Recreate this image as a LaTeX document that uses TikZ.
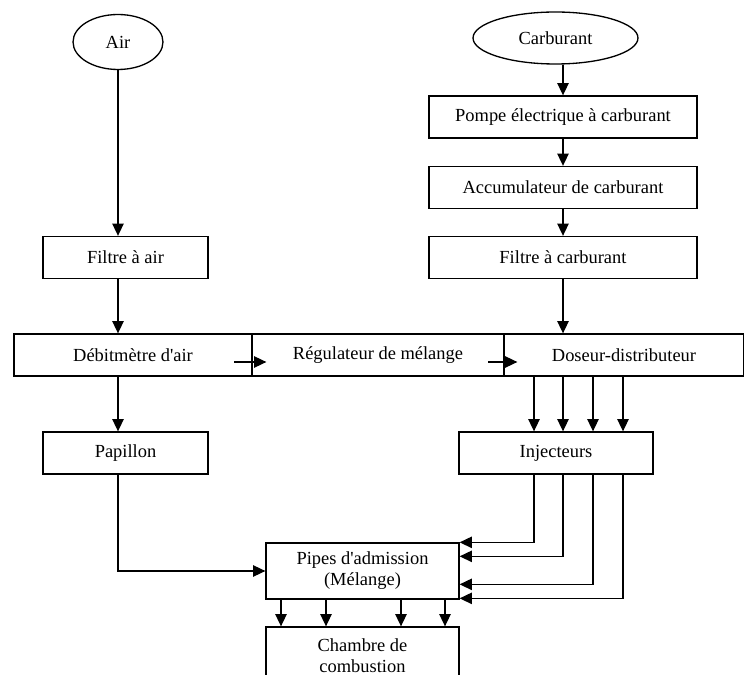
\documentclass[tikz,border=0pt]{standalone}
\usepackage{fontspec}
\setmainfont{Liberation Serif}
\usetikzlibrary{arrows.meta, shapes.geometric, calc, positioning}

\begin{document}
\begin{tikzpicture}[x=0.02cm, y=-0.02cm, line width=0.75pt,
    >={Triangle[length=7pt, width=6.5pt]},
    bloc/.style={draw, rectangle, inner sep=0pt, minimum height=0.84cm,
      align=center, font=\fontsize{10.5}{12}\selectfont},
    source/.style={draw, ellipse, inner sep=0pt, font=\fontsize{10.5}{12}\selectfont}]
  \useasboundingbox (0,0) rectangle (744,675);
  % sources
  \node[source, minimum width=1.8cm, minimum height=1.1cm] (air) at (118, 42) {Air};
  \node[source, minimum width=3.3cm, minimum height=1.04cm] (carb) at (555.5, 38) {Carburant};
  % air side
  \node[bloc, minimum width=3.3cm] (filtreair) at (125.5, 257.5) {Filtre à air};
  \node[bloc, minimum width=3.3cm] (papillon) at (125.5, 453) {Papillon};
  % fuel side
  \node[bloc, minimum width=5.36cm] (pompe) at (563, 117) {Pompe électrique à carburant};
  \node[bloc, minimum width=5.36cm] (accu) at (563, 187.5) {Accumulateur de carburant};
  \node[bloc, minimum width=5.36cm] (filtrecarb) at (563, 257.5) {Filtre à carburant};
  % main row
  \node[bloc, minimum width=4.76cm] (debit) at (133, 355) {Débitmètre d\textquotesingle air};
  \node[bloc, minimum width=5.04cm] (regul) at (378, 355) {Régulateur de mélange};
  \node[bloc, minimum width=4.8cm] (doseur) at (624, 355) {Doseur-distributeur};
  \node[bloc, minimum width=3.88cm] (injecteurs) at (556, 453) {Injecteurs};
  % mixing
  \node[bloc, minimum width=3.86cm, minimum height=1.12cm] (pipes) at (362.5, 571) {Pipes d\textquotesingle admission\\(Mélange)};
  \node[bloc, minimum width=3.86cm, minimum height=1.16cm] (chambre) at (362.5, 656) {Chambre de\\combustion};

  \draw[->] (air) -- (air |- filtreair.north);
  \draw[->] (air |- filtreair.south) -- (air |- debit.north);
  \draw[->] (air |- debit.south) -- (air |- papillon.north);
  \draw[->] (air |- papillon.south) |- (pipes.west);

  \draw[->] (pompe.north |- carb.south) -- (pompe.north);
  \draw[->] (pompe) -- (accu);
  \draw[->] (accu) -- (filtrecarb);
  \draw[->] (filtrecarb) -- (filtrecarb |- doseur.north);

  % small arrows inside the main row
  \coordinate (r1) at ($(regul.west)+(-17,7)$);
  \coordinate (r2) at ($(regul.west)+(15,7)$);
  \draw[->] (r1) -- (r2);
  \coordinate (d1) at ($(doseur.west)+(-15,7)$);
  \coordinate (d2) at ($(doseur.west)+(14,7)$);
  \draw[->] (d1) -- (d2);

  \foreach \dx in {-22,7,37,67} {
    \coordinate (t) at ($(injecteurs.north)+(\dx,0)$);
    \draw[->] (t |- doseur.south) -- (t);
  }
  \foreach \dx/\dy in {-22/0,7/14,37/42,67/56} {
    \coordinate (b) at ($(injecteurs.south)+(\dx,0)$);
    \coordinate (e) at ($(pipes.north east)+(0,\dy)$);
    \draw[->] (b) |- (e);
  }
  \foreach \dx in {-81.5,-36.5,38.5,82.5} {
    \coordinate (p) at ($(pipes.south)+(\dx,0)$);
    \draw[->] (p) -- (p |- chambre.north);
  }
\end{tikzpicture}
\end{document}
